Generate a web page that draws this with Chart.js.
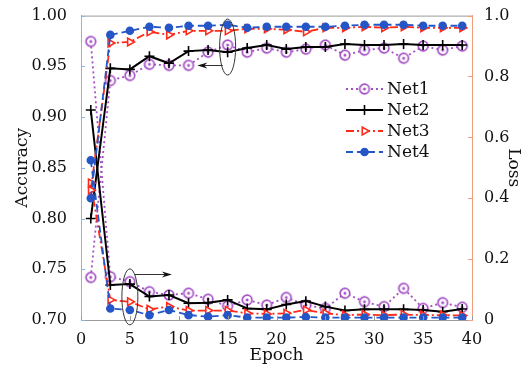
<!DOCTYPE html>
<html>
<head>
<meta charset="utf-8">
<script src="https://cdn.jsdelivr.net/npm/chart.js@4/dist/chart.umd.min.js"></script>
<style>
  body { margin: 0; background: #fff; }
  #chart { display: block; }
</style>
</head>
<body>
<canvas id="chart" width="530" height="370"></canvas>
<script>
// epochs where the nets were evaluated
var epochs = [1, 3, 5, 7, 9, 11, 13, 15, 17, 19, 21, 23, 25, 27, 29, 31, 33, 35, 37, 39];

// accuracy (left axis)
var net1Acc = [0.742, 0.936, 0.941, 0.952, 0.951, 0.951, 0.964, 0.971, 0.964, 0.968, 0.964, 0.967, 0.971, 0.961, 0.966, 0.968, 0.958, 0.970, 0.966, 0.970];
var net2Acc = [0.800, 0.948, 0.947, 0.960, 0.953, 0.965, 0.966, 0.964, 0.968, 0.971, 0.967, 0.969, 0.969, 0.972, 0.971, 0.971, 0.972, 0.971, 0.971, 0.971];
var net3Acc = [0.828, 0.973, 0.974, 0.984, 0.981, 0.985, 0.985, 0.985, 0.987, 0.987, 0.986, 0.984, 0.988, 0.988, 0.989, 0.988, 0.989, 0.988, 0.988, 0.988];
var net4Acc = [0.820, 0.981, 0.985, 0.989, 0.988, 0.990, 0.990, 0.991, 0.988, 0.989, 0.989, 0.989, 0.989, 0.990, 0.991, 0.991, 0.991, 0.990, 0.990, 0.990];

// loss (right axis)
var net1Loss = [0.915, 0.142, 0.126, 0.093, 0.082, 0.088, 0.068, 0.046, 0.066, 0.049, 0.074, 0.049, 0.038, 0.088, 0.060, 0.044, 0.104, 0.038, 0.057, 0.042];
var net2Loss = [0.690, 0.115, 0.118, 0.077, 0.082, 0.055, 0.057, 0.066, 0.038, 0.035, 0.051, 0.062, 0.044, 0.031, 0.035, 0.035, 0.035, 0.033, 0.027, 0.036];
var net3Loss = [0.450, 0.066, 0.060, 0.035, 0.044, 0.031, 0.031, 0.031, 0.022, 0.020, 0.022, 0.033, 0.022, 0.016, 0.018, 0.016, 0.018, 0.016, 0.016, 0.015];
var net4Loss = [0.525, 0.038, 0.033, 0.016, 0.033, 0.016, 0.011, 0.016, 0.008, 0.008, 0.008, 0.010, 0.008, 0.008, 0.008, 0.008, 0.008, 0.008, 0.008, 0.008];

var netNames = ['Net1', 'Net2', 'Net3', 'Net4'];
var accTicks = [0.70, 0.75, 0.80, 0.85, 0.90, 0.95, 1.00];
var lossTicks = [0, 0.2, 0.4, 0.6, 0.8, 1.0];
var epochTicks = [0, 5, 10, 15, 20, 25, 30, 35, 40];

// ellipse marks: [epoch, value, axis] and arrows: [fromEpoch, toEpoch, value, axis]
var ellipses = [[15, 0.969, 'yAcc'], [5, 0.076, 'yLoss']];
var arrows = [[14.5, 11.9, 0.951, 'yAcc'], [5.5, 9.3, 0.151, 'yLoss']];

var serif = "'DejaVu Serif', serif";

// hollow circle with a dot in the middle
function ringDot(color) {
    var c = document.createElement('canvas');
    c.width = 14; c.height = 14;
    var g = c.getContext('2d');
    g.beginPath();
    g.arc(7, 7, 4.8, 0, Math.PI * 2);
    g.fillStyle = '#fff';
    g.fill();
    g.lineWidth = 1.7;
    g.strokeStyle = color;
    g.stroke();
    g.beginPath();
    g.arc(7, 7, 1.5, 0, Math.PI * 2);
    g.fillStyle = color;
    g.fill();
    return c;
}

var styles = [
    { color: '#a34fc4', dash: [2, 3], width: 1.8, point: ringDot('#a34fc4'), rot: 0, radius: 5, fill: '#fff' },
    { color: '#000000', dash: [], width: 2, point: 'cross', rot: 0, radius: 5, fill: '#000' },
    { color: '#ff2a1a', dash: [8, 3, 2, 3], width: 1.8, point: 'triangle', rot: 90, radius: 4.5, fill: '#fff' },
    { color: '#2456c8', dash: [7, 4], width: 1.8, point: 'circle', rot: 0, radius: 3.5, fill: '#2456c8' }
];

function makeSet(i, values, axis) {
    var s = styles[i];
    return {
        label: netNames[i],
        data: epochs.map(function (e, k) { return { x: e, y: values[k] }; }),
        yAxisID: axis,
        borderColor: s.color,
        borderDash: s.dash,
        borderWidth: s.width,
        pointStyle: s.point,
        pointRotation: s.rot,
        pointRadius: s.radius,
        pointBorderWidth: 1.6,
        pointBackgroundColor: s.fill,
        pointBorderColor: s.color,
        order: 4 - i,
        tension: 0
    };
}

var accSets = [net1Acc, net2Acc, net3Acc, net4Acc];
var lossSets = [net1Loss, net2Loss, net3Loss, net4Loss];
var datasets = [];
for (var i = 0; i < 4; i++) {
    datasets.push(makeSet(i, accSets[i], 'yAcc'));
    datasets.push(makeSet(i, lossSets[i], 'yLoss'));
}

// inward tick marks and the top frame line
var frame = {
    id: 'frame',
    afterDraw: function (chart) {
        var ctx = chart.ctx, a = chart.chartArea;
        ctx.save();
        ctx.lineWidth = 1;
        ctx.strokeStyle = '#9a9a9a';
        ctx.beginPath();
        ctx.moveTo(a.left, a.top + 0.5);
        ctx.lineTo(a.right, a.top + 0.5);
        ctx.stroke();

        var sx = chart.scales.x, sl = chart.scales.yAcc, sr = chart.scales.yLoss;
        ctx.beginPath();
        epochTicks.forEach(function (v) {
            var px = Math.round(sx.getPixelForValue(v)) + 0.5;
            ctx.moveTo(px, a.bottom); ctx.lineTo(px, a.bottom - 4);
        });
        ctx.stroke();

        ctx.strokeStyle = '#8fb2e2';
        ctx.beginPath();
        accTicks.forEach(function (v) {
            var py = Math.round(sl.getPixelForValue(v)) + 0.5;
            ctx.moveTo(a.left, py); ctx.lineTo(a.left + 4, py);
        });
        ctx.stroke();

        ctx.strokeStyle = '#f0a07e';
        ctx.beginPath();
        lossTicks.forEach(function (v) {
            var py = Math.round(sr.getPixelForValue(v)) + 0.5;
            ctx.moveTo(a.right, py); ctx.lineTo(a.right - 4, py);
        });
        ctx.stroke();
        ctx.restore();
    }
};

// ellipses and arrows pointing each group to its axis
var notes = {
    id: 'notes',
    afterDraw: function (chart) {
        var ctx = chart.ctx, sx = chart.scales.x;
        ctx.save();
        ctx.strokeStyle = '#333';
        ctx.fillStyle = '#111';
        ctx.lineWidth = 1;
        ellipses.forEach(function (e) {
            var cx = sx.getPixelForValue(e[0]);
            var cy = chart.scales[e[2]].getPixelForValue(e[1]);
            ctx.beginPath();
            ctx.ellipse(cx, cy, 8, 28, 0, 0, Math.PI * 2);
            ctx.stroke();
        });
        arrows.forEach(function (r) {
            var x0 = sx.getPixelForValue(r[0]);
            var x1 = sx.getPixelForValue(r[1]);
            var y = Math.round(chart.scales[r[3]].getPixelForValue(r[2])) + 0.5;
            var d = x1 > x0 ? 1 : -1;
            ctx.beginPath();
            ctx.moveTo(x0, y); ctx.lineTo(x1 - d * 4, y);
            ctx.stroke();
            ctx.beginPath();
            ctx.moveTo(x1, y);
            ctx.lineTo(x1 - d * 10, y - 3);
            ctx.lineTo(x1 - d * 7, y);
            ctx.lineTo(x1 - d * 10, y + 3);
            ctx.closePath();
            ctx.fill();
        });
        ctx.restore();
    }
};

// legend with line samples and markers
var legendBox = {
    id: 'legendBox',
    afterDraw: function (chart) {
        var ctx = chart.ctx;
        ctx.save();
        ctx.font = '17px ' + serif;
        ctx.textBaseline = 'middle';
        for (var i = 0; i < 4; i++) {
            var s = styles[i];
            var y = 89 + i * 21;
            ctx.strokeStyle = s.color;
            ctx.lineWidth = s.width;
            ctx.setLineDash(s.dash);
            ctx.beginPath();
            ctx.moveTo(346, y); ctx.lineTo(383, y);
            ctx.stroke();
            ctx.setLineDash([]);
            ctx.fillStyle = s.fill;
            ctx.lineWidth = 1.6;
            Chart.helpers.drawPoint(ctx, { pointStyle: s.point, rotation: s.rot, radius: s.radius, borderWidth: 1.6 }, 364.5, y);
            ctx.fillStyle = '#111';
            ctx.fillText(netNames[i], 387, y + 1);
        }
        ctx.restore();
    }
};

var tickFont = { family: serif, size: 16 };
var titleFont = { family: serif, size: 17 };

new Chart(document.getElementById('chart'), {
    type: 'line',
    data: { datasets: datasets },
    plugins: [frame, notes, legendBox],
    options: {
        responsive: false,
        animation: false,
        layout: { padding: { top: 15, left: 0, right: 0, bottom: 0 } },
        plugins: { legend: { display: false }, tooltip: { enabled: false } },
        scales: {
            x: {
                type: 'linear',
                min: 0,
                max: 40,
                afterBuildTicks: function (s) { s.ticks = epochTicks.map(function (v) { return { value: v }; }); },
                afterFit: function (s) { s.height = 50; },
                ticks: { font: tickFont, color: '#111', padding: 2, maxRotation: 0 },
                grid: { display: false },
                border: { color: '#9a9a9a', width: 1 },
                title: { display: true, text: 'Epoch', font: titleFont, color: '#111', padding: { top: 0, bottom: 4 } }
            },
            yAcc: {
                position: 'left',
                min: 0.70,
                max: 1.00,
                afterBuildTicks: function (s) { s.ticks = accTicks.map(function (v) { return { value: v }; }); },
                afterFit: function (s) { s.width = 81; },
                ticks: { font: tickFont, color: '#111', padding: 6, callback: function (v) { return v.toFixed(2); } },
                grid: { display: false },
                border: { color: '#8fb2e2', width: 1 },
                title: { display: true, text: 'Accuracy', font: titleFont, color: '#111', padding: { top: 12, bottom: 0 } }
            },
            yLoss: {
                position: 'right',
                min: 0,
                max: 1,
                afterBuildTicks: function (s) { s.ticks = lossTicks.map(function (v) { return { value: v }; }); },
                afterFit: function (s) { s.width = 58; },
                ticks: { font: tickFont, color: '#111', padding: 4, callback: function (v) { return v === 0 ? '0' : v.toFixed(1); } },
                grid: { display: false },
                border: { color: '#f0a07e', width: 1 },
                title: { display: true, text: 'Loss', font: titleFont, color: '#111', padding: { top: 6, bottom: 0 } }
            }
        }
    }
});
</script>
</body>
</html>
